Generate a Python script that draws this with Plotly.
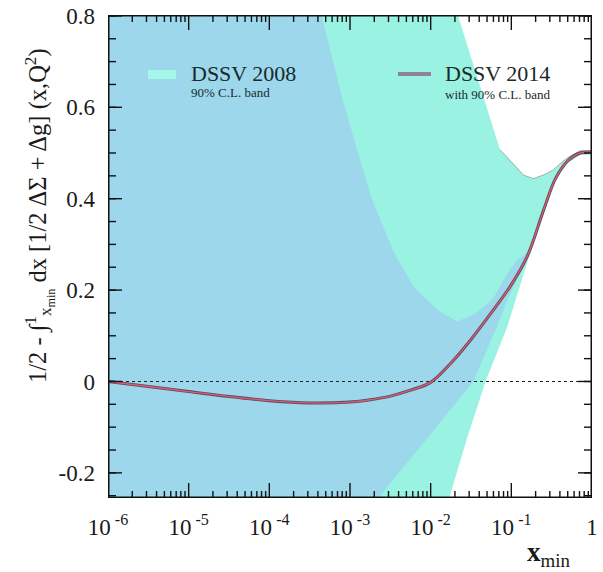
import plotly.graph_objects as go

# ---------------- data (log10 x, value) ----------------
curve_logx = [-6.0, -5.5, -5.0, -4.5, -4.0, -3.5, -3.0, -2.75, -2.5, -2.25, -2.0, -1.75, -1.5, -1.25,
              -1.0, -0.8, -0.6, -0.45, -0.3, -0.15, 0.0]
curve_y = [0.000, -0.011, -0.022, -0.033, -0.042, -0.047, -0.045, -0.040, -0.032, -0.019, -0.002, 0.040,
           0.092, 0.150, 0.212, 0.275, 0.375, 0.445, 0.483, 0.500, 0.502]

# DSSV 2014 90% C.L. band
b14_up_logx = [-6.0, -3.6, -3.35, -3.09, -2.9, -2.73, -2.45, -2.2, -1.9, -1.67, -1.45, -1.23, -1.02,
               -0.93, -0.8, -0.6, -0.45, -0.3, -0.15, 0.0]
b14_up_y = [1.5, 1.0, 0.80, 0.616, 0.50, 0.40, 0.28, 0.205, 0.155, 0.131, 0.148, 0.18, 0.245,
            0.265, 0.282, 0.38, 0.45, 0.488, 0.503, 0.504]
b14_lo_logx = [-6.0, -3.0, -2.65, -2.06, -1.47, -1.18, -1.02, -0.9, -0.8, -0.6, -0.45, -0.3, -0.15, 0.0]
b14_lo_y = [-1.0, -0.5, -0.255, -0.128, 0.0, 0.12, 0.19, 0.235, 0.27, 0.371, 0.441, 0.479, 0.496, 0.498]

# DSSV 2008 90% C.L. band
b08_up_logx = [-6.0, -1.85, -1.66, -1.33, -1.14, -0.99, -0.85, -0.73, -0.6, -0.48, -0.40, -0.3, -0.15, 0.0]
b08_up_y = [1.2, 1.0, 0.80, 0.616, 0.507, 0.479, 0.452, 0.444, 0.452, 0.463, 0.476, 0.49, 0.505, 0.505]
b08_lo_logx = [-6.0, -2.0, -1.77, -1.55, -1.32, -1.05, -0.93, -0.8, -0.6, -0.45, -0.3, -0.15, 0.0]
b08_lo_y = [-1.2, -0.39, -0.255, -0.125, 0.0, 0.12, 0.19, 0.262, 0.37, 0.44, 0.478, 0.495, 0.497]

x_tickvals = [1e-6, 1e-5, 1e-4, 1e-3, 1e-2, 1e-1, 1]
x_ticktext = ["10<sup> -6</sup>", "10<sup> -5</sup>", "10<sup> -4</sup>", "10<sup> -3</sup>",
              "10<sup> -2</sup>", "10<sup> -1</sup>", "1"]
y_tickvals = [-0.2, 0.0, 0.2, 0.4, 0.6, 0.8]
y_ticktext = ["-0.2", "0", "0.2", "0.4", "0.6", "0.8"]

C_BLUE = "#9cd7eb"
C_CYAN = "#9af2e3"
FONT = "Liberation Serif"
INK = "#111111"

L, R, T, B = 108, 592, 15, 498
W, H = 603, 572
XR = [-6, 0]
YR = [-0.255, 0.802]
DEC_PER_PX = (XR[1] - XR[0]) / (R - L)
Y_PER_PX = (YR[1] - YR[0]) / (B - T)


def tox(lx):
    return [10 ** v for v in lx]


def band(upx, upy, lox, loy):
    xs = tox(upx) + tox(lox)[::-1]
    ys = list(upy) + list(loy)[::-1]
    return xs, ys


def px(xp):
    return (xp - L) / (R - L)


def py(yp):
    return (B - yp) / (B - T)


fig = go.Figure()

x08, y08 = band(b08_up_logx, b08_up_y, b08_lo_logx, b08_lo_y)
fig.add_trace(go.Scatter(x=x08, y=y08, fill="toself", fillcolor=C_CYAN, mode="lines",
                         line=dict(width=0), hoverinfo="skip", showlegend=False))
fig.add_trace(go.Scatter(x=tox(b08_up_logx[4:]), y=b08_up_y[4:], mode="lines",
                         line=dict(color="rgba(120,110,100,0.5)", width=1), hoverinfo="skip",
                         showlegend=False))

x14, y14 = band(b14_up_logx, b14_up_y, b14_lo_logx, b14_lo_y)
fig.add_trace(go.Scatter(x=x14, y=y14, fill="toself", fillcolor=C_BLUE, mode="lines",
                         line=dict(width=0), hoverinfo="skip", showlegend=False))

fig.add_trace(go.Scatter(x=[1e-6, 1], y=[0, 0], mode="lines",
                         line=dict(color="#222222", width=1.2, dash="dot"), hoverinfo="skip",
                         showlegend=False))

fig.add_trace(go.Scatter(x=tox(curve_logx), y=curve_y, mode="lines", line_shape="spline",
                         line=dict(color="#5a4a58", width=3), hoverinfo="skip", showlegend=False))
fig.add_trace(go.Scatter(x=tox(curve_logx), y=curve_y, mode="lines", line_shape="spline",
                         line=dict(color="#e05a78", width=1.3), hoverinfo="skip", showlegend=False))

# ---- frame and tick marks (derived from the tick arrays) ----
minor_x = [m * 10 ** d for d in range(-6, 0) for m in range(2, 10)]
minor_y = [round(-0.25 + 0.05 * i, 2) for i in range(22)]

tx, ty = [], []
for vals, plen in [(x_tickvals, 15), (minor_x, 7)]:
    for v in vals:
        dy = plen * Y_PER_PX
        tx += [v, v, None, v, v, None]
        ty += [YR[0], YR[0] + dy, None, YR[1], YR[1] - dy, None]
for vals, plen in [(y_tickvals, 14), (minor_y, 8)]:
    for v in vals:
        if v < YR[0] or v > YR[1]:
            continue
        dl = plen * DEC_PER_PX
        tx += [10 ** XR[0], 10 ** (XR[0] + dl), None, 10 ** XR[1], 10 ** (XR[1] - dl), None]
        ty += [v, v, None, v, v, None]
fig.add_trace(go.Scatter(x=tx, y=ty, mode="lines", line=dict(color=INK, width=1.4),
                         hoverinfo="skip", showlegend=False, cliponaxis=False, connectgaps=False))
fig.add_trace(go.Scatter(x=[10 ** XR[0], 10 ** XR[1], 10 ** XR[1], 10 ** XR[0], 10 ** XR[0]],
                         y=[YR[0], YR[0], YR[1], YR[1], YR[0]], mode="lines",
                         line=dict(color=INK, width=3), hoverinfo="skip", showlegend=False,
                         cliponaxis=False))

# ---------------- layout ----------------
fig.update_layout(
    width=W, height=H,
    margin=dict(l=L, r=W - R, t=T, b=H - B, autoexpand=False),
    paper_bgcolor="white", plot_bgcolor="white",
    font=dict(family=FONT, color="#1a1a1a"),
    showlegend=False,
    xaxis=dict(type="log", range=XR, tickmode="array", tickvals=x_tickvals, ticktext=x_ticktext,
               ticks="", showgrid=False, zeroline=False, showline=False, automargin=False,
               tickfont=dict(size=23, family=FONT, color="#1a1a1a"), ticklabelstandoff=13),
    yaxis=dict(range=YR, tickmode="array", tickvals=y_tickvals, ticktext=y_ticktext,
               ticks="", showgrid=False, zeroline=False, showline=False, automargin=False,
               tickfont=dict(size=23, family=FONT, color="#1a1a1a"), ticklabelstandoff=12),
)

# legend swatches
fig.add_shape(type="rect", xref="paper", yref="paper", x0=px(148), x1=px(176), y0=py(79), y1=py(70),
              fillcolor="#a4f7e8", line=dict(width=0), layer="above")
fig.add_shape(type="line", xref="paper", yref="paper", x0=px(398), x1=px(431), y0=py(74), y1=py(74),
              line=dict(color="#8d8399", width=4), layer="above")

ann = [
    dict(x=px(189), y=py(74), text="DSSV 2008", font=dict(size=22, family=FONT, color="#1a2a2a")),
    dict(x=px(189), y=py(93), text="90% C.L. band", font=dict(size=13, family=FONT, color="#1a2a2a")),
    dict(x=px(443), y=py(74), text="DSSV 2014", font=dict(size=22, family=FONT, color="#1a2a2a")),
    dict(x=px(443), y=py(94), text="with 90% C.L. band", font=dict(size=13, family=FONT, color="#1a2a2a")),
]
for a in ann:
    fig.add_annotation(xref="paper", yref="paper", xanchor="left", yanchor="middle",
                       showarrow=False, **a)

fig.add_annotation(xref="paper", yref="paper", x=px(39), y=py(216), textangle=-90,
                   xanchor="center", yanchor="middle", showarrow=False,
                   text="1/2 - ∫<sup>1</sup><sub>x<sub>min</sub></sub> dx [1/2 ΔΣ + Δg] (x,Q<sup>2</sup>)",
                   font=dict(size=24.5, family=FONT, color="#1a1a1a"))
fig.add_annotation(xref="paper", yref="paper", x=px(548), y=py(554),
                   xanchor="center", yanchor="middle", showarrow=False,
                   text="<b>x</b><sub>min</sub>",
                   font=dict(size=27, family=FONT, color="#1a1a1a"))

fig.write_html("out.html", config={"displayModeBar": False},
               post_script="document.body.style.margin='0';")
